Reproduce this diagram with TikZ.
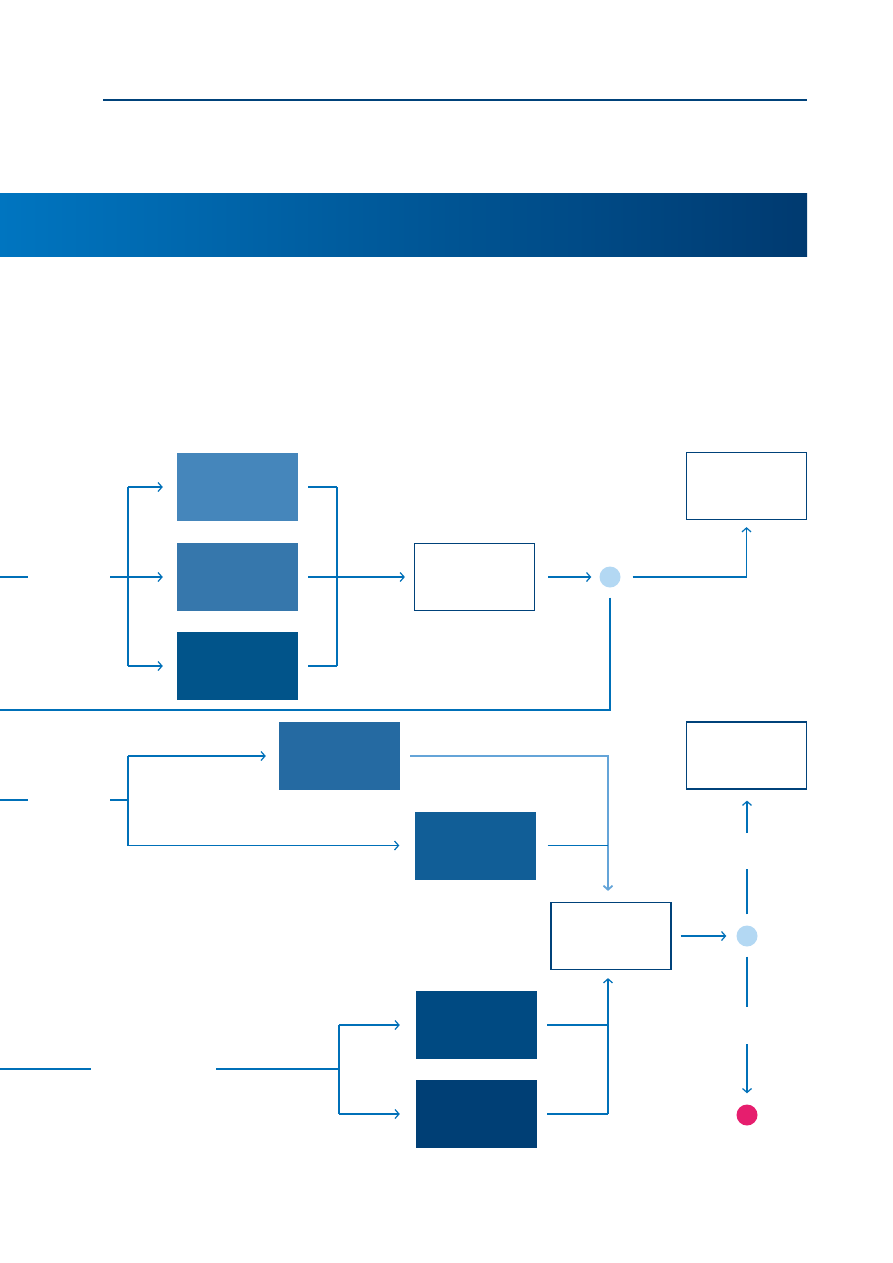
\documentclass[tikz,border=0pt]{standalone}
\usepackage{tikz}
\usetikzlibrary{arrows.meta, positioning}
\definecolor{linkblue}{RGB}{0, 112, 184}
\definecolor{paleblue}{RGB}{100, 164, 216}
\definecolor{frameblue}{RGB}{0, 66, 122}
\definecolor{hubblue}{RGB}{179, 216, 243}
\definecolor{endpink}{RGB}{230, 30, 110}
\definecolor{bandleft}{RGB}{0, 117, 192}
\definecolor{bandright}{RGB}{0, 58, 112}
\definecolor{stageone}{RGB}{69, 134, 187}
\definecolor{stagetwo}{RGB}{54, 119, 172}
\definecolor{stagethree}{RGB}{1, 84, 138}
\definecolor{stagefour}{RGB}{37, 106, 162}
\definecolor{stagefive}{RGB}{17, 94, 151}
\definecolor{stagesix}{RGB}{0, 74, 130}
\definecolor{stageseven}{RGB}{0, 63, 117}

\begin{document}
\begin{tikzpicture}[x=1pt, y=-1pt,
  fillbox/.style={minimum width=121pt, minimum height=68pt, inner sep=0pt},
  framebox/.style={draw=frameblue, line width=1.2pt, fill=white, minimum width=120pt, minimum height=67pt, inner sep=0pt},
  hubdot/.style={circle, inner sep=0pt, minimum size=21pt},
  link/.style={draw=linkblue, line width=1.2pt},
  arr/.style={link, -{Straight Barb[length=4pt, width=9pt]}}]
  \useasboundingbox (0,0) rectangle (893,1263);

  % header rule and band
  \draw[frameblue, line width=2.5pt] (103,100) -- (807,100);
  \shade[left color=bandleft, right color=bandright] (0,193) rectangle (807,256);

  % boxes
  \node[fillbox, fill=stageone] (A1) at (237.5,487) {};
  \node[fillbox, fill=stagetwo] (A2) at (237.5,577) {};
  \node[fillbox, fill=stagethree] (A3) at (237.5,666) {};
  \node[framebox] (B) at (474.5,577) {};
  \node[hubdot, fill=hubblue] (C1) at (610,577) {};
  \node[framebox] (D1) at (746.5,486) {};
  \node[fillbox, fill=stagefour] (E1) at (339.5,756) {};
  \node[fillbox, fill=stagefive] (E2) at (475,845.5) {};
  \node[framebox] (F) at (611,936) {};
  \node[hubdot, fill=hubblue] (C2) at (747,936) {};
  \node[framebox] (D2) at (746.5,755.5) {};
  \node[hubdot, fill=endpink] (P) at (747,1115) {};
  \node[fillbox, fill=stagesix] (G1) at (476.5,1025) {};
  \node[fillbox, fill=stageseven] (G2) at (476.5,1114) {};

  % free ends and junctions
  \coordinate (srcA0) at (0,577);
  \coordinate (srcA1) at (28,577);
  \coordinate (srcA2) at (110,577);
  \coordinate (splitA) at (128,577);
  \coordinate (joinA) at (337,577);
  \coordinate (loopA) at (0,710);
  \coordinate (srcB0) at (0,800);
  \coordinate (srcB1) at (28,800);
  \coordinate (srcB2) at (110,800);
  \coordinate (splitB) at (128,800);
  \coordinate (mergeB) at (608,756);
  \coordinate (upA) at (747,869);
  \coordinate (upB) at (747,833);
  \coordinate (downA) at (747,1007);
  \coordinate (downB) at (747,1044);
  \coordinate (srcC0) at (0,1069);
  \coordinate (srcC1) at (91,1069);
  \coordinate (srcC2) at (216,1069);
  \coordinate (splitC) at (339,1069);
  \coordinate (mergeC) at (608,1114);

  % first row
  \draw[link] (srcA0) -- (srcA1);
  \draw[link] (srcA2) -- (splitA);
  \draw[link] (splitA |- A1) -- (splitA |- A3);
  \foreach \b in {A1,A2,A3}
    \draw[arr, shorten >=14pt] (splitA |- \b) -- (\b.west);
  \foreach \b in {A1,A2,A3}
    \draw[link, shorten <=10pt] (\b.east) -- (joinA |- \b);
  \draw[link] (joinA |- A1) -- (joinA |- A3);
  \draw[arr, shorten >=9pt] (joinA) -- (B.west);
  \draw[arr, shorten <=13pt, shorten >=8pt] (B.east) -- (C1.west);
  \draw[arr, shorten <=12pt, shorten >=7pt] (C1.east) -- (D1 |- C1) -- (D1.south);
  \draw[link, shorten <=10pt] (C1.south) -- (C1 |- loopA) -- (loopA);

  % second row
  \draw[link] (srcB0) -- (srcB1);
  \draw[link] (srcB2) -- (splitB);
  \draw[link] (splitB |- E1) -- (splitB |- E2);
  \draw[arr, shorten >=13pt] (splitB |- E1) -- (E1.west);
  \draw[arr, shorten >=15pt] (splitB |- E2) -- (E2.west);
  \draw[arr, draw=paleblue, line width=1.8pt, shorten <=10pt, shorten >=11pt] (E1.east) -- (mergeB) -- (mergeB |- F.north);
  \draw[link, shorten <=12pt] (E2.east) -- (mergeB |- E2);
  \draw[arr, shorten <=9pt, shorten >=10pt] (F.east) -- (C2.west);
  \draw[link, shorten <=11pt] (C2.north) -- (upA);
  \draw[arr, shorten >=11pt] (upB) -- (upB |- D2.south);
  \draw[link, shorten <=10pt] (C2.south) -- (downA);
  \draw[arr, shorten >=11pt] (downB) -- (P.north);

  % third row
  \draw[link] (srcC0) -- (srcC1);
  \draw[link] (srcC2) -- (splitC);
  \draw[link] (splitC |- G1) -- (splitC |- G2);
  \foreach \b in {G1,G2}
    \draw[arr, shorten >=16pt] (splitC |- \b) -- (\b.west);
  \draw[link, shorten <=10pt] (G1.east) -- (mergeC |- G1);
  \draw[link, shorten <=10pt] (G2.east) -- (mergeC);
  \draw[arr, shorten >=8pt] (mergeC) -- (mergeC |- F.south);
\end{tikzpicture}
\end{document}
